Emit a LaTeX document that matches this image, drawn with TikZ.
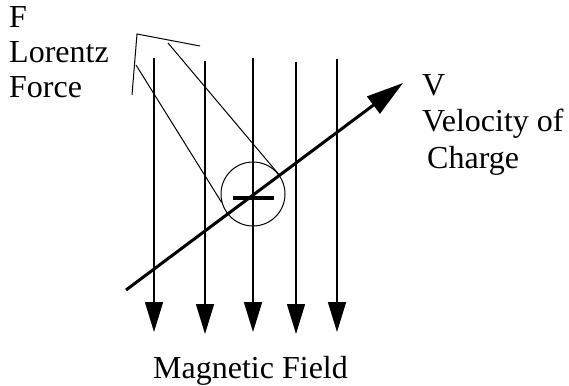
\documentclass[tikz,border=0pt]{standalone}
\usepackage{fontspec}
\setmainfont{Liberation Serif}
\usetikzlibrary{arrows.meta, positioning}

\begin{document}
\begin{tikzpicture}[
  x=1pt, y=-1pt,
  fieldline/.style={line width=1.5pt, -{Triangle[length=30pt, width=18pt]}},
  velarrow/.style={line width=3pt, -{Triangle[length=37pt, width=21pt]}},
  outline/.style={line width=1pt},
  charge/.style={circle, draw, line width=1pt, minimum size=64pt, inner sep=0pt},
  lbl/.style={font=\fontsize{32}{35}\selectfont, align=left, inner sep=0pt}
]

\useasboundingbox (0,0) rectangle (569,385);

% -------------------------
% MAGNETIC FIELD (downward lines)
% -------------------------

\foreach \n/\x/\top/\tip in {1/154/58/332, 2/205/61/334, 3/253/58/332, 4/296/62/334, 5/337/59/332} {
  \coordinate (b\n top) at (\x,\top);
  \coordinate (b\n tip) at (\x,\tip);
  \draw[fieldline] (b\n top) -- (b\n tip);
}

% -------------------------
% CHARGE
% -------------------------

\node[charge] (charge) at (253,194) {};
\draw[line width=4pt] ([shift={(-20,4)}]charge.center) -- ([shift={(21,4)}]charge.center);

% -------------------------
% VELOCITY
% -------------------------

\coordinate (vstart) at (126,290);
\coordinate (vtip) at (403,83);
\draw[velarrow] (vstart) -- (vtip);

% -------------------------
% LORENTZ FORCE (open outline arrow)
% -------------------------

\coordinate (fapex) at (137,34);
\coordinate (fleft) at (132,95);
\coordinate (fright) at (200,46);
\coordinate (fin1) at (136,65);
\coordinate (fin2) at (168,43);

\draw[outline] (fleft) -- (fapex) -- (fright);
\draw[outline] (fin1) -- (charge.195);
\draw[outline] (fin2) -- (charge.35);

% -------------------------
% LABELS
% -------------------------

% base anchor sits on the last line
\node[lbl, anchor=base west] (force) at (9,98) {F\\Lorentz\\Force};
\node[lbl, anchor=base west, font=\fontsize{32}{36.5}\selectfont] (vel) at (422,168) {V\\Velocity of\\\hspace{5pt}Charge};
\node[lbl, anchor=base west] (field) at (153,378) {Magnetic Field};

\end{tikzpicture}
\end{document}
